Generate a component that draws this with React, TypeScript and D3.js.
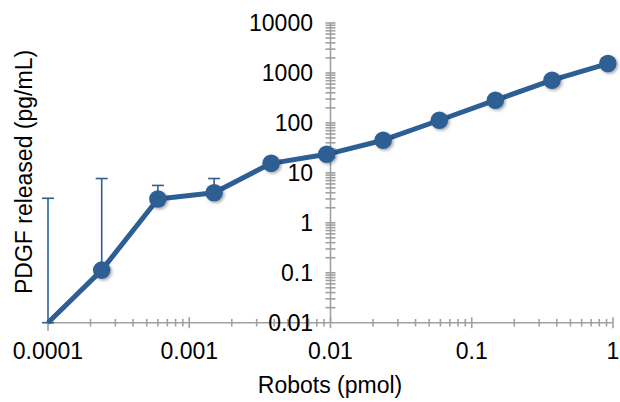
import React, { useEffect, useRef } from 'react';
import * as d3 from 'd3';

// robots dose series (pmol) and PDGF released (pg/mL)
const robots = [0.0001, 0.00024, 0.0006, 0.0015, 0.0038, 0.0094, 0.0236, 0.059, 0.147, 0.37, 0.92];
const pdgf = [0.01, 0.113, 3.0, 4.0, 15.5, 23.5, 45, 113, 285, 715, 1540];
// error bar ends (null = no bar drawn)
const errUpper = [3.1, 7.7, 5.6, 7.7, null, null, null, null, null, null, null];
const errLower = [0.01, null, null, null, null, null, null, null, null, null, null];

const xTickLabels = ['0.0001', '0.001', '0.01', '0.1', '1'];
const yTickLabels = ['0.01', '0.1', '1', '10', '100', '1000', '10000'];

const W = 620;
const H = 402;
const blue = '#2d5f94';
const axisGray = '#a0a0a0';
const font = '"Liberation Sans", Arial, Helvetica, sans-serif';
const fontSize = 23;

export default function App() {
  const ref = useRef<SVGSVGElement>(null);

  useEffect(() => {
    const svg = d3.select(ref.current);
    svg.selectAll('*').remove();

    const x = d3.scaleLog().domain([0.0001, 1]).range([48, 613]);
    const y = d3.scaleLog().domain([0.01, 10000]).range([322.7, 23]);
    const yAxisX = x(0.01);
    const xAxisY = y(0.01);

    const defs = svg.append('defs');
    const f = defs
      .append('filter')
      .attr('id', 'shadow')
      .attr('x', '-50%')
      .attr('y', '-50%')
      .attr('width', '200%')
      .attr('height', '200%');
    f.append('feDropShadow')
      .attr('dx', 1.5)
      .attr('dy', 1.5)
      .attr('stdDeviation', 1.6)
      .attr('flood-color', '#000')
      .attr('flood-opacity', 0.35);

    // minor + major ticks
    const yTicks: number[] = [];
    for (let k = -2; k <= 3; k++) {
      for (let m = 1; m <= 9; m++) yTicks.push(m * Math.pow(10, k));
    }
    yTicks.push(10000);
    const xTicks: number[] = [];
    for (let k = -4; k <= -1; k++) {
      for (let m = 1; m <= 9; m++) xTicks.push(m * Math.pow(10, k));
    }
    xTicks.push(1);

    const isMajor = (d: number) => Math.abs(Math.log10(d) - Math.round(Math.log10(d))) < 1e-6;

    const axes = svg.append('g').attr('stroke', axisGray).attr('stroke-width', 1.6);

    // y axis line and crossing ticks
    axes.append('line')
      .attr('x1', yAxisX).attr('x2', yAxisX)
      .attr('y1', y(10000)).attr('y2', xAxisY);
    axes.selectAll('line.ytick')
      .data(yTicks.filter((d) => d > 0.01))
      .enter()
      .append('line')
      .attr('class', 'ytick')
      .attr('x1', yAxisX - 5)
      .attr('x2', yAxisX + 5)
      .attr('y1', (d) => y(d))
      .attr('y2', (d) => y(d));

    // x axis line and crossing ticks
    axes.append('line')
      .attr('x1', x(0.0001)).attr('x2', x(1))
      .attr('y1', xAxisY).attr('y2', xAxisY);
    axes.selectAll('line.xtick')
      .data(xTicks.filter((d) => d > 0.0001))
      .enter()
      .append('line')
      .attr('class', 'xtick')
      .attr('x1', (d) => x(d))
      .attr('x2', (d) => x(d))
      .attr('y1', (d) => xAxisY - (isMajor(d) ? 5.5 : 3.8))
      .attr('y2', (d) => xAxisY + (isMajor(d) ? 5.5 : 3.8));
    axes.append('line')
      .attr('x1', x(0.0001)).attr('x2', x(0.0001))
      .attr('y1', xAxisY).attr('y2', xAxisY + 8);

    // tick labels
    svg.append('g')
      .selectAll('text')
      .data(yTickLabels)
      .enter()
      .append('text')
      .attr('x', 313)
      .attr('y', (d) => y(+d))
      .attr('dy', '0.36em')
      .attr('text-anchor', 'end')
      .attr('font-family', font)
      .attr('font-size', fontSize)
      .attr('fill', '#000')
      .text((d) => d);

    svg.append('g')
      .selectAll('text')
      .data(xTickLabels)
      .enter()
      .append('text')
      .attr('x', (d) => x(+d))
      .attr('y', 359)
      .attr('text-anchor', 'middle')
      .attr('font-family', font)
      .attr('font-size', fontSize)
      .attr('fill', '#000')
      .text((d) => d);

    // axis titles
    svg.append('text')
      .attr('x', 330)
      .attr('y', 393)
      .attr('text-anchor', 'middle')
      .attr('font-family', font)
      .attr('font-size', fontSize)
      .text('Robots (pmol)');

    svg.append('text')
      .attr('transform', 'translate(32,172) rotate(-90)')
      .attr('text-anchor', 'middle')
      .attr('font-family', font)
      .attr('font-size', fontSize)
      .text('PDGF released (pg/mL)');

    // error bars
    const eb = svg.append('g').attr('stroke', blue).attr('stroke-width', 1.6);
    robots.forEach((r, i) => {
      const cx = x(r);
      const up = errUpper[i];
      const lo = errLower[i];
      if (up != null) {
        eb.append('line').attr('x1', cx).attr('x2', cx).attr('y1', y(pdgf[i])).attr('y2', y(up));
        eb.append('line').attr('x1', cx - 6).attr('x2', cx + 6).attr('y1', y(up)).attr('y2', y(up));
      }
      if (lo != null) {
        eb.append('line').attr('x1', cx).attr('x2', cx).attr('y1', y(pdgf[i])).attr('y2', y(lo));
        eb.append('line').attr('x1', cx - 6).attr('x2', cx + 6).attr('y1', y(lo)).attr('y2', y(lo));
      }
    });

    // series line
    const line = d3
      .line<number>()
      .x((d, i) => x(robots[i]))
      .y((d) => y(d));
    svg.append('path')
      .datum(pdgf)
      .attr('d', line)
      .attr('fill', 'none')
      .attr('stroke', blue)
      .attr('stroke-width', 5)
      .attr('stroke-linejoin', 'round');

    // markers (first point sits at the axis floor, no marker shown)
    svg.append('g')
      .attr('filter', 'url(#shadow)')
      .selectAll('circle')
      .data(pdgf.slice(1))
      .enter()
      .append('circle')
      .attr('cx', (d, i) => x(robots[i + 1]))
      .attr('cy', (d) => y(d))
      .attr('r', 8.8)
      .attr('fill', blue);
  }, []);

  return (
    <svg
      ref={ref}
      width={W}
      height={H}
      style={{ position: 'absolute', left: 0, top: 0, background: '#fff' }}
    />
  );
}
